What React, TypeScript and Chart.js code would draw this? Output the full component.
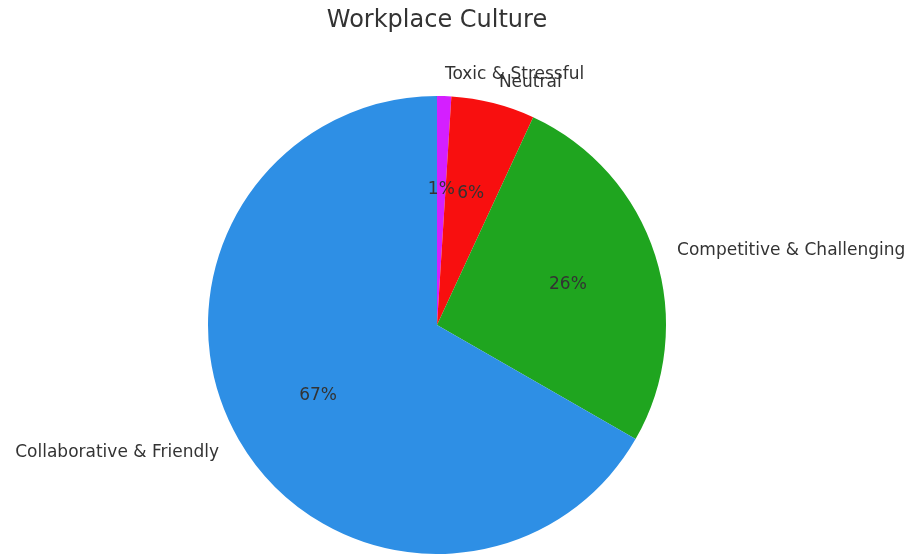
import React, { useEffect, useRef } from "react";
import { Chart, registerables } from "chart.js";

Chart.register(...registerables);

const chartTitle = "Workplace Culture";
const categories = ["Toxic & Stressful", "Neutral", "Competitive & Challenging", "Collaborative & Friendly"];
const values = [1.0, 5.9, 26.4, 66.7];
const colors = ["#D41FFF", "#F80F0F", "#1FA51F", "#2E8FE5"];

const textColor = "#333333";
const fontFamily = "'DejaVu Sans', sans-serif";

const labelPlugin = {
  id: "pieLabels",
  afterDraw(chart: any) {
    const ctx = chart.ctx as CanvasRenderingContext2D;
    const meta = chart.getDatasetMeta(0);
    const total = values.reduce((a, b) => a + b, 0);
    ctx.save();
    ctx.fillStyle = textColor;
    // title
    ctx.font = `24px ${fontFamily}`;
    ctx.textAlign = "center";
    ctx.textBaseline = "middle";
    ctx.fillText(chartTitle, 437, 21);

    meta.data.forEach((arc: any, i: number) => {
      const mid = (arc.startAngle + arc.endAngle) / 2;
      const r = arc.outerRadius;
      const cx = arc.x;
      const cy = arc.y;
      // outer label
      const lx = cx + 1.1 * r * Math.cos(mid);
      const ly = cy + 1.1 * r * Math.sin(mid) + 1.5;
      ctx.font = `17px ${fontFamily}`;
      ctx.textBaseline = "middle";
      ctx.textAlign = Math.cos(mid) >= 0 ? "left" : "right";
      ctx.fillText(categories[i], lx, ly);
      // percent label
      const px = cx + 0.6 * r * Math.cos(mid);
      const py = cy + 0.6 * r * Math.sin(mid) + 1.5;
      ctx.textAlign = "center";
      const pct = Math.round((values[i] / total) * 100);
      ctx.fillText(`${pct}%`, px, py);
    });
    ctx.restore();
  },
};

export default function App() {
  const canvasRef = useRef<HTMLCanvasElement | null>(null);

  useEffect(() => {
    if (!canvasRef.current) return;
    const chart = new Chart(canvasRef.current, {
      type: "pie",
      data: {
        labels: categories,
        datasets: [
          {
            data: values,
            backgroundColor: colors,
            borderWidth: 0,
            hoverOffset: 0,
          },
        ],
      },
      options: {
        responsive: false,
        animation: false,
        layout: { padding: { left: 208, right: 243, top: 96, bottom: 0 } },
        plugins: {
          legend: { display: false },
          title: { display: false },
          tooltip: { enabled: false },
        },
      },
      plugins: [labelPlugin],
    });
    return () => chart.destroy();
  }, []);

  return (
    <div style={{ position: "absolute", left: 0, top: 0, width: 909, height: 554, background: "#ffffff" }}>
      <canvas ref={canvasRef} width={909} height={554} style={{ width: 909, height: 554 }} />
    </div>
  );
}
